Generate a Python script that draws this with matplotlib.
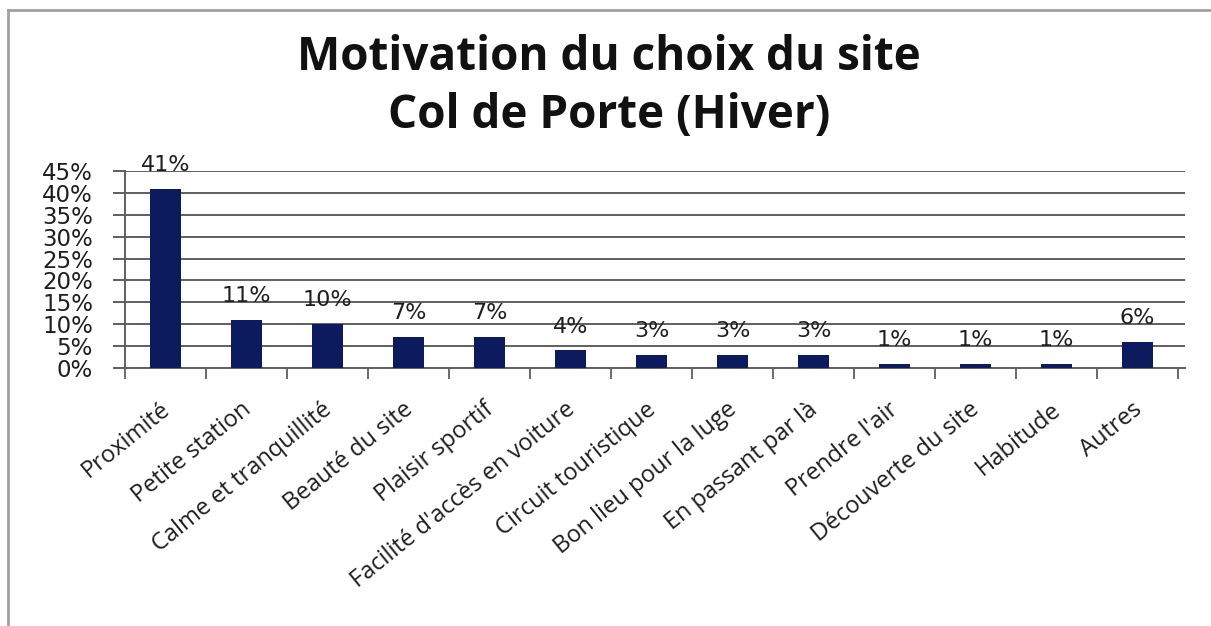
import matplotlib
matplotlib.use('Agg')
import matplotlib.pyplot as plt
from matplotlib.lines import Line2D
import numpy as np

# Motivation du choix du site - Col de Porte (hiver)
categories = ['Proximité', 'Petite station', 'Calme et tranquillité', 'Beauté du site',
              'Plaisir sportif', "Facilité d'accès en voiture", 'Circuit touristique',
              'Bon lieu pour la luge', 'En passant par là', "Prendre l'air",
              'Découverte du site', 'Habitude', 'Autres']
pct = [41, 11, 10, 7, 7, 4, 3, 3, 3, 1, 1, 1, 6]
yticks = [0, 5, 10, 15, 20, 25, 30, 35, 40, 45]

W, H = 1211, 626
BAR = '#0c1a5e'
GRID = '#5f5f5f'
TXT = '#1e1e1e'

fig = plt.figure(figsize=(W / 100, H / 100), dpi=100)
fig.patch.set_facecolor('white')

# chart frame (left and top edges)
fig.add_artist(Line2D([8 / W, 8 / W], [0, 1 - 10 / H], transform=fig.transFigure,
                      color='#a0a0a0', lw=2))
fig.add_artist(Line2D([8 / W, 1], [1 - 10 / H, 1 - 10 / H], transform=fig.transFigure,
                      color='#a0a0a0', lw=2))

ax = fig.add_axes([125 / W, 1 - 368 / H, (1185 - 125) / W, (368 - 171) / H])
x = np.arange(len(categories))
vals = np.array(pct) / 100
ax.bar(x, vals, width=0.39, color=BAR, zorder=3)

ax.set_ylim(0, 0.45)
ax.set_xlim(-0.5, len(categories) - 0.5 + 7 / 81)
ax.set_yticks([t / 100 for t in yticks])
ax.set_yticklabels([f'{t}%' for t in yticks], fontsize=16.5, family='DejaVu Sans',
                   color=TXT)
ax.yaxis.grid(True, color=GRID, lw=1.4, zorder=0)
ax.tick_params(axis='y', length=9, width=1.4, color=GRID, pad=14)

# category boundary ticks below the axis
ax.set_xticks(np.arange(len(categories) + 1) - 0.5)
ax.set_xticklabels([])
ax.tick_params(axis='x', length=8, width=1.3, color=GRID, direction='out')
for s in ['top', 'right']:
    ax.spines[s].set_visible(False)
ax.spines['left'].set_color(GRID)
ax.spines['left'].set_linewidth(1.4)
ax.spines['bottom'].set_color(GRID)
ax.spines['bottom'].set_linewidth(1.4)

# rotated category labels
for xi, lab in zip(x, categories):
    ax.annotate(lab, xy=(xi, 0), xycoords=('data', 'axes fraction'),
                xytext=(1, -28), textcoords='offset points',
                rotation=39, rotation_mode='anchor', ha='right', va='center',
                fontsize=17, family='Open Sans', color=TXT)

# value labels above bars
for xi, v, p in zip(x, vals, pct):
    ax.annotate(f'{p}%', xy=(xi, v), xytext=(0, 10), textcoords='offset points',
                ha='center', va='bottom', fontsize=16, family='DejaVu Sans',
                color=TXT, annotation_clip=False)

fig.text(0.503, 1 - 58 / H, 'Motivation du choix du site', ha='center', va='center',
         fontsize=33, fontweight='bold', family='Open Sans', color='#111111')
fig.text(0.503, 1 - 116 / H, 'Col de Porte (Hiver)', ha='center', va='center',
         fontsize=33, fontweight='bold', family='Open Sans', color='#111111')

fig.savefig('out.png', dpi=100)
